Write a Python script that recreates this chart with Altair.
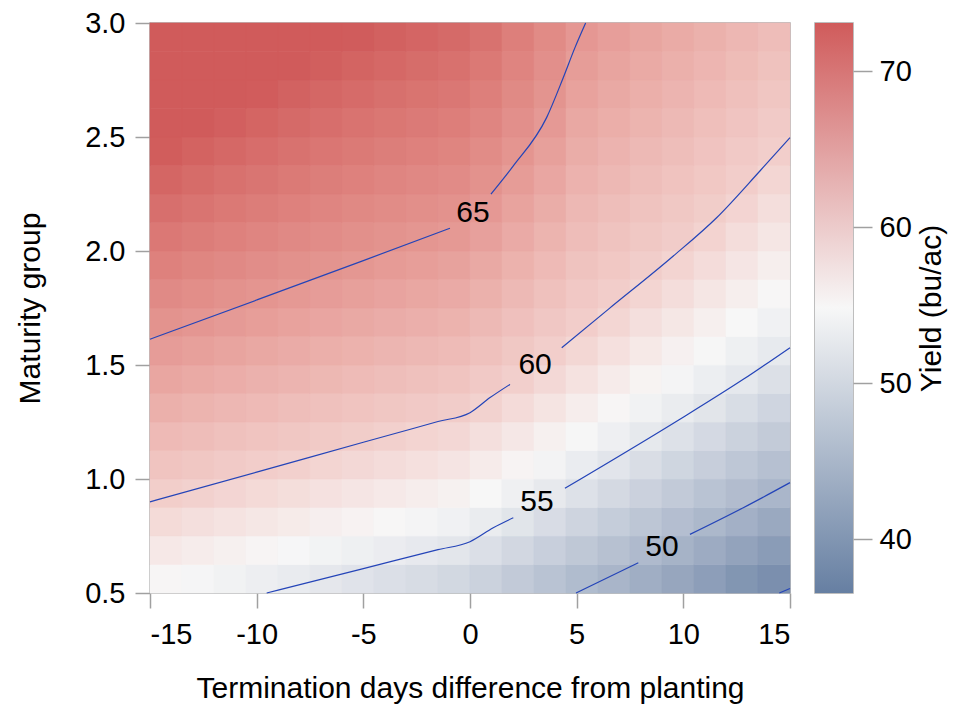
import altair as alt
import pandas as pd

FONT = "Liberation Sans"

# ---- surface (yield): cell centres and values ----
day_centers = [-14.25, -12.75, -11.25, -9.75, -8.25, -6.75, -5.25, -3.75, -2.25, -0.75,
               0.75, 2.25, 3.75, 5.25, 6.75, 8.25, 9.75, 11.25, 12.75, 14.25]
mg_centers = [0.5625, 0.6875, 0.8125, 0.9375, 1.0625, 1.1875, 1.3125, 1.4375, 1.5625, 1.6875,
              1.8125, 1.9375, 2.0625, 2.1875, 2.3125, 2.4375, 2.5625, 2.6875, 2.8125, 2.9375]
# one list per day column, values from MG 0.56 (bottom) up to MG 2.94 (top)
yield_cols = [
    [56.64, 57.81, 58.99, 60.13, 61.00, 61.87, 62.74, 63.61, 64.47, 65.30, 66.06, 66.82, 67.58, 68.34, 69.10, 69.86, 70.56, 71.24, 71.93, 72.61],
    [56.30, 57.47, 58.64, 59.81, 60.71, 61.57, 62.42, 63.28, 64.13, 64.98, 65.72, 66.45, 67.18, 67.92, 68.65, 69.38, 70.10, 70.76, 71.42, 72.08],
    [55.96, 57.12, 58.28, 59.45, 60.44, 61.28, 62.12, 62.96, 63.80, 64.63, 65.40, 66.11, 66.81, 67.52, 68.23, 68.94, 69.65, 70.32, 70.96, 71.59],
    [55.62, 56.78, 57.93, 59.08, 60.17, 60.99, 61.82, 62.65, 63.47, 64.30, 65.10, 65.79, 66.47, 67.15, 67.84, 68.52, 69.21, 69.89, 70.52, 71.14],
    [55.30, 56.44, 57.59, 58.73, 59.88, 60.73, 61.54, 62.35, 63.16, 63.97, 64.79, 65.49, 66.15, 66.81, 67.48, 68.14, 68.80, 69.46, 70.11, 70.71],
    [54.96, 56.11, 57.25, 58.39, 59.52, 60.46, 61.26, 62.06, 62.86, 63.66, 64.46, 65.21, 65.85, 66.49, 67.13, 67.77, 68.42, 69.06, 69.70, 70.31],
    [54.56, 55.78, 56.91, 58.04, 59.17, 60.21, 61.00, 61.78, 62.57, 63.36, 64.14, 64.93, 65.57, 66.19, 66.81, 67.43, 68.06, 68.68, 69.30, 69.92],
    [54.16, 55.46, 56.58, 57.70, 58.83, 59.95, 60.74, 61.51, 62.29, 63.06, 63.84, 64.61, 65.30, 65.90, 66.51, 67.11, 67.72, 68.32, 68.92, 69.53],
    [53.78, 55.14, 56.25, 57.37, 58.48, 59.60, 60.49, 61.25, 62.01, 62.78, 63.54, 64.30, 65.05, 65.63, 66.22, 66.81, 67.40, 67.98, 68.57, 69.16],
    [53.40, 54.78, 55.93, 57.04, 58.15, 59.26, 60.25, 61.00, 61.75, 62.50, 63.25, 64.00, 64.75, 65.38, 65.95, 66.52, 67.09, 67.66, 68.24, 68.81],
    [52.79, 54.14, 55.39, 56.48, 57.56, 58.64, 59.73, 60.53, 61.25, 61.96, 62.67, 63.38, 64.10, 64.81, 65.39, 65.93, 66.47, 67.01, 67.55, 68.09],
    [52.01, 53.35, 54.68, 55.80, 56.84, 57.89, 58.93, 59.98, 60.64, 61.29, 61.93, 62.58, 63.23, 63.88, 64.53, 65.13, 65.61, 66.09, 66.56, 67.04],
    [51.24, 52.55, 53.85, 55.13, 56.14, 57.15, 58.16, 59.17, 60.11, 60.68, 61.26, 61.84, 62.42, 63.00, 63.57, 64.15, 64.73, 65.21, 65.61, 66.00],
    [50.50, 51.78, 53.05, 54.32, 55.45, 56.42, 57.39, 58.36, 59.33, 60.15, 60.62, 61.10, 61.57, 62.05, 62.52, 63.00, 63.48, 63.95, 64.43, 64.90],
    [49.81, 51.05, 52.28, 53.52, 54.75, 55.73, 56.66, 57.58, 58.50, 59.43, 60.17, 60.63, 61.09, 61.54, 62.00, 62.46, 62.91, 63.37, 63.83, 64.28],
    [49.07, 50.35, 51.55, 52.74, 53.94, 55.10, 55.99, 56.87, 57.75, 58.64, 59.52, 60.20, 60.65, 61.09, 61.53, 61.97, 62.41, 62.86, 63.30, 63.74],
    [48.26, 49.57, 50.80, 51.98, 53.16, 54.34, 55.38, 56.22, 57.07, 57.91, 58.76, 59.60, 60.23, 60.65, 61.07, 61.50, 61.92, 62.35, 62.77, 63.20],
    [47.42, 48.77, 50.11, 51.25, 52.40, 53.55, 54.70, 55.60, 56.40, 57.21, 58.02, 58.82, 59.63, 60.22, 60.63, 61.03, 61.44, 61.84, 62.25, 62.66],
    [46.48, 47.91, 49.33, 50.59, 51.70, 52.82, 53.93, 55.03, 55.78, 56.53, 57.28, 58.03, 58.78, 59.53, 60.15, 60.54, 60.93, 61.33, 61.72, 62.11],
    [45.79, 47.16, 48.53, 49.90, 51.00, 52.07, 53.15, 54.22, 55.19, 55.90, 56.60, 57.30, 58.00, 58.70, 59.40, 60.06, 60.43, 60.81, 61.19, 61.57],
]

# ---- contour lines (day, maturity group), split where the labels sit ----
contour_65_left = [(-15, 1.613), (-10, 1.785), (-5, 1.958), (-0.94, 2.10)]
contour_65_right = [(0.98, 2.249), (2.03, 2.373), (3.59, 2.585), (4.37, 2.76), (4.92, 2.892), (5.42, 3.0)]
contour_60_left = [(-15, 0.90), (-10, 1.030), (-5, 1.161), (-1.5, 1.252), (0, 1.291),
                   (0.94, 1.357), (1.875, 1.415)]
contour_60_right = [(4.30, 1.576), (6.48, 1.744), (9.53, 1.978), (11.56, 2.146), (13.59, 2.351), (15, 2.497)]
contour_55_left = [(-9.53, 0.5), (-5, 0.607), (-1.5, 0.690), (0, 0.725), (1.09, 0.786), (2.03, 0.83)]
contour_55_right = [(4.45, 0.959), (9.84, 1.262), (12.81, 1.437), (15, 1.576)]
contour_50_left = [(4.97, 0.5), (7.89, 0.633)]
contour_50_right = [(10.31, 0.757), (12.81, 0.874), (15, 0.984)]
contour_45 = [(14.5, 0.5), (15, 0.52)]

label_text = ["65", "60", "55", "50"]
label_day = [0.14, 3.05, 3.14, 9.0]
label_mg = [2.167, 1.50, 0.899, 0.702]

colorbar_min, colorbar_max = 36.54, 73.08
colorbar_ticks = [40, 50, 60, 70]
x_ticks = [-15, -10, -5, 0, 5, 10, 15]
y_ticks = [0.5, 1.0, 1.5, 2.0, 2.5, 3.0]

BLUE, WHITE, RED = "#667fa2", "#f7f7f7", "#d05b5b"

# ---- tables ----
grid_rows = []
for i, d in enumerate(day_centers):
    for j, m in enumerate(mg_centers):
        grid_rows.append({"day": d, "mg": m, "yield": yield_cols[i][j]})
grid_df = pd.DataFrame(grid_rows)

segments = {
    "65a": contour_65_left, "65b": contour_65_right,
    "60a": contour_60_left, "60b": contour_60_right,
    "55a": contour_55_left, "55b": contour_55_right,
    "50a": contour_50_left, "50b": contour_50_right,
    "45": contour_45,
}
line_rows = []
for name, pts in segments.items():
    for k, (d, m) in enumerate(pts):
        line_rows.append({"seg": name, "k": k, "day": d, "mg": m})
line_df = pd.DataFrame(line_rows)

label_df = pd.DataFrame({"text": label_text, "day": label_day, "mg": label_mg})

xscale = alt.Scale(domain=[-15, 15], nice=False, zero=False)
yscale = alt.Scale(domain=[0.5, 3.0], nice=False, zero=False)
cscale = alt.Scale(domain=[44.0, 56.5, 70.0], range=[BLUE, WHITE, RED], clamp=True)

heat = alt.Chart(grid_df).transform_calculate(
    x0="datum.day - 0.75", x1="datum.day + 0.75",
    y0="datum.mg - 0.0625", y1="datum.mg + 0.0625",
).mark_rect(strokeWidth=0.6).encode(
    x=alt.X("x0:Q", scale=xscale,
            axis=alt.Axis(values=x_ticks, labelExpr="'' + datum.value", tickSize=15,
                          labelPadding=12, titlePadding=24),
            title="Termination days difference from planting"),
    x2="x1:Q",
    y=alt.Y("y0:Q", scale=yscale,
            axis=alt.Axis(values=y_ticks, format=".1f", tickSize=15, labelPadding=10,
                          titlePadding=39),
            title="Maturity group"),
    y2="y1:Q",
    color=alt.Color("yield:Q", scale=cscale, legend=None),
    stroke=alt.Stroke("yield:Q", scale=cscale, legend=None),
)

lines = alt.Chart(line_df).mark_line(color="#2444b8", strokeWidth=1.2,
                                     interpolate="monotone").encode(
    x="day:Q", y="mg:Q", detail="seg:N", order="k:Q"
)

labels = alt.Chart(label_df).mark_text(font=FONT, fontSize=30, color="black",
                                       baseline="middle", align="center").encode(
    x="day:Q", y="mg:Q", text="text:N"
)

main = alt.layer(heat, lines, labels).properties(width=640, height=570)

bar_df = pd.DataFrame({"lo": [colorbar_min], "hi": [colorbar_max]})
gradient = {
    "gradient": "linear", "x1": 0, "y1": 1, "x2": 0, "y2": 0,
    "stops": [{"offset": 0, "color": BLUE}, {"offset": 0.5, "color": WHITE},
              {"offset": 1, "color": RED}],
}
colorbar = alt.Chart(bar_df).mark_rect(fill=gradient).encode(
    y=alt.Y("lo:Q", scale=alt.Scale(domain=[colorbar_min, colorbar_max], nice=False, zero=False),
            axis=alt.Axis(orient="right", values=colorbar_ticks, tickSize=19, labelPadding=7,
                          titlePadding=5, titleAngle=270, titleBaseline="top"),
            title="Yield (bu/ac)"),
    y2="hi:Q",
    x=alt.value(0), x2=alt.value(38),
).properties(width=38, height=570)

chart = alt.hconcat(main, colorbar, spacing=25, bounds="flush").properties(
    padding={"left": 6, "top": 0, "right": 0, "bottom": 0},
    background="white",
).configure_view(stroke="#a9a9a9", strokeWidth=1.5).configure_axis(
    labelFont=FONT, titleFont=FONT, labelFontSize=29, titleFontSize=30,
    labelColor="black", titleColor="black", titleFontWeight="normal",
    tickColor="#a0a0a0", tickWidth=1.5, domain=False, grid=False,
)

chart.save("out.html", embed_options={"renderer": "svg", "actions": False})
